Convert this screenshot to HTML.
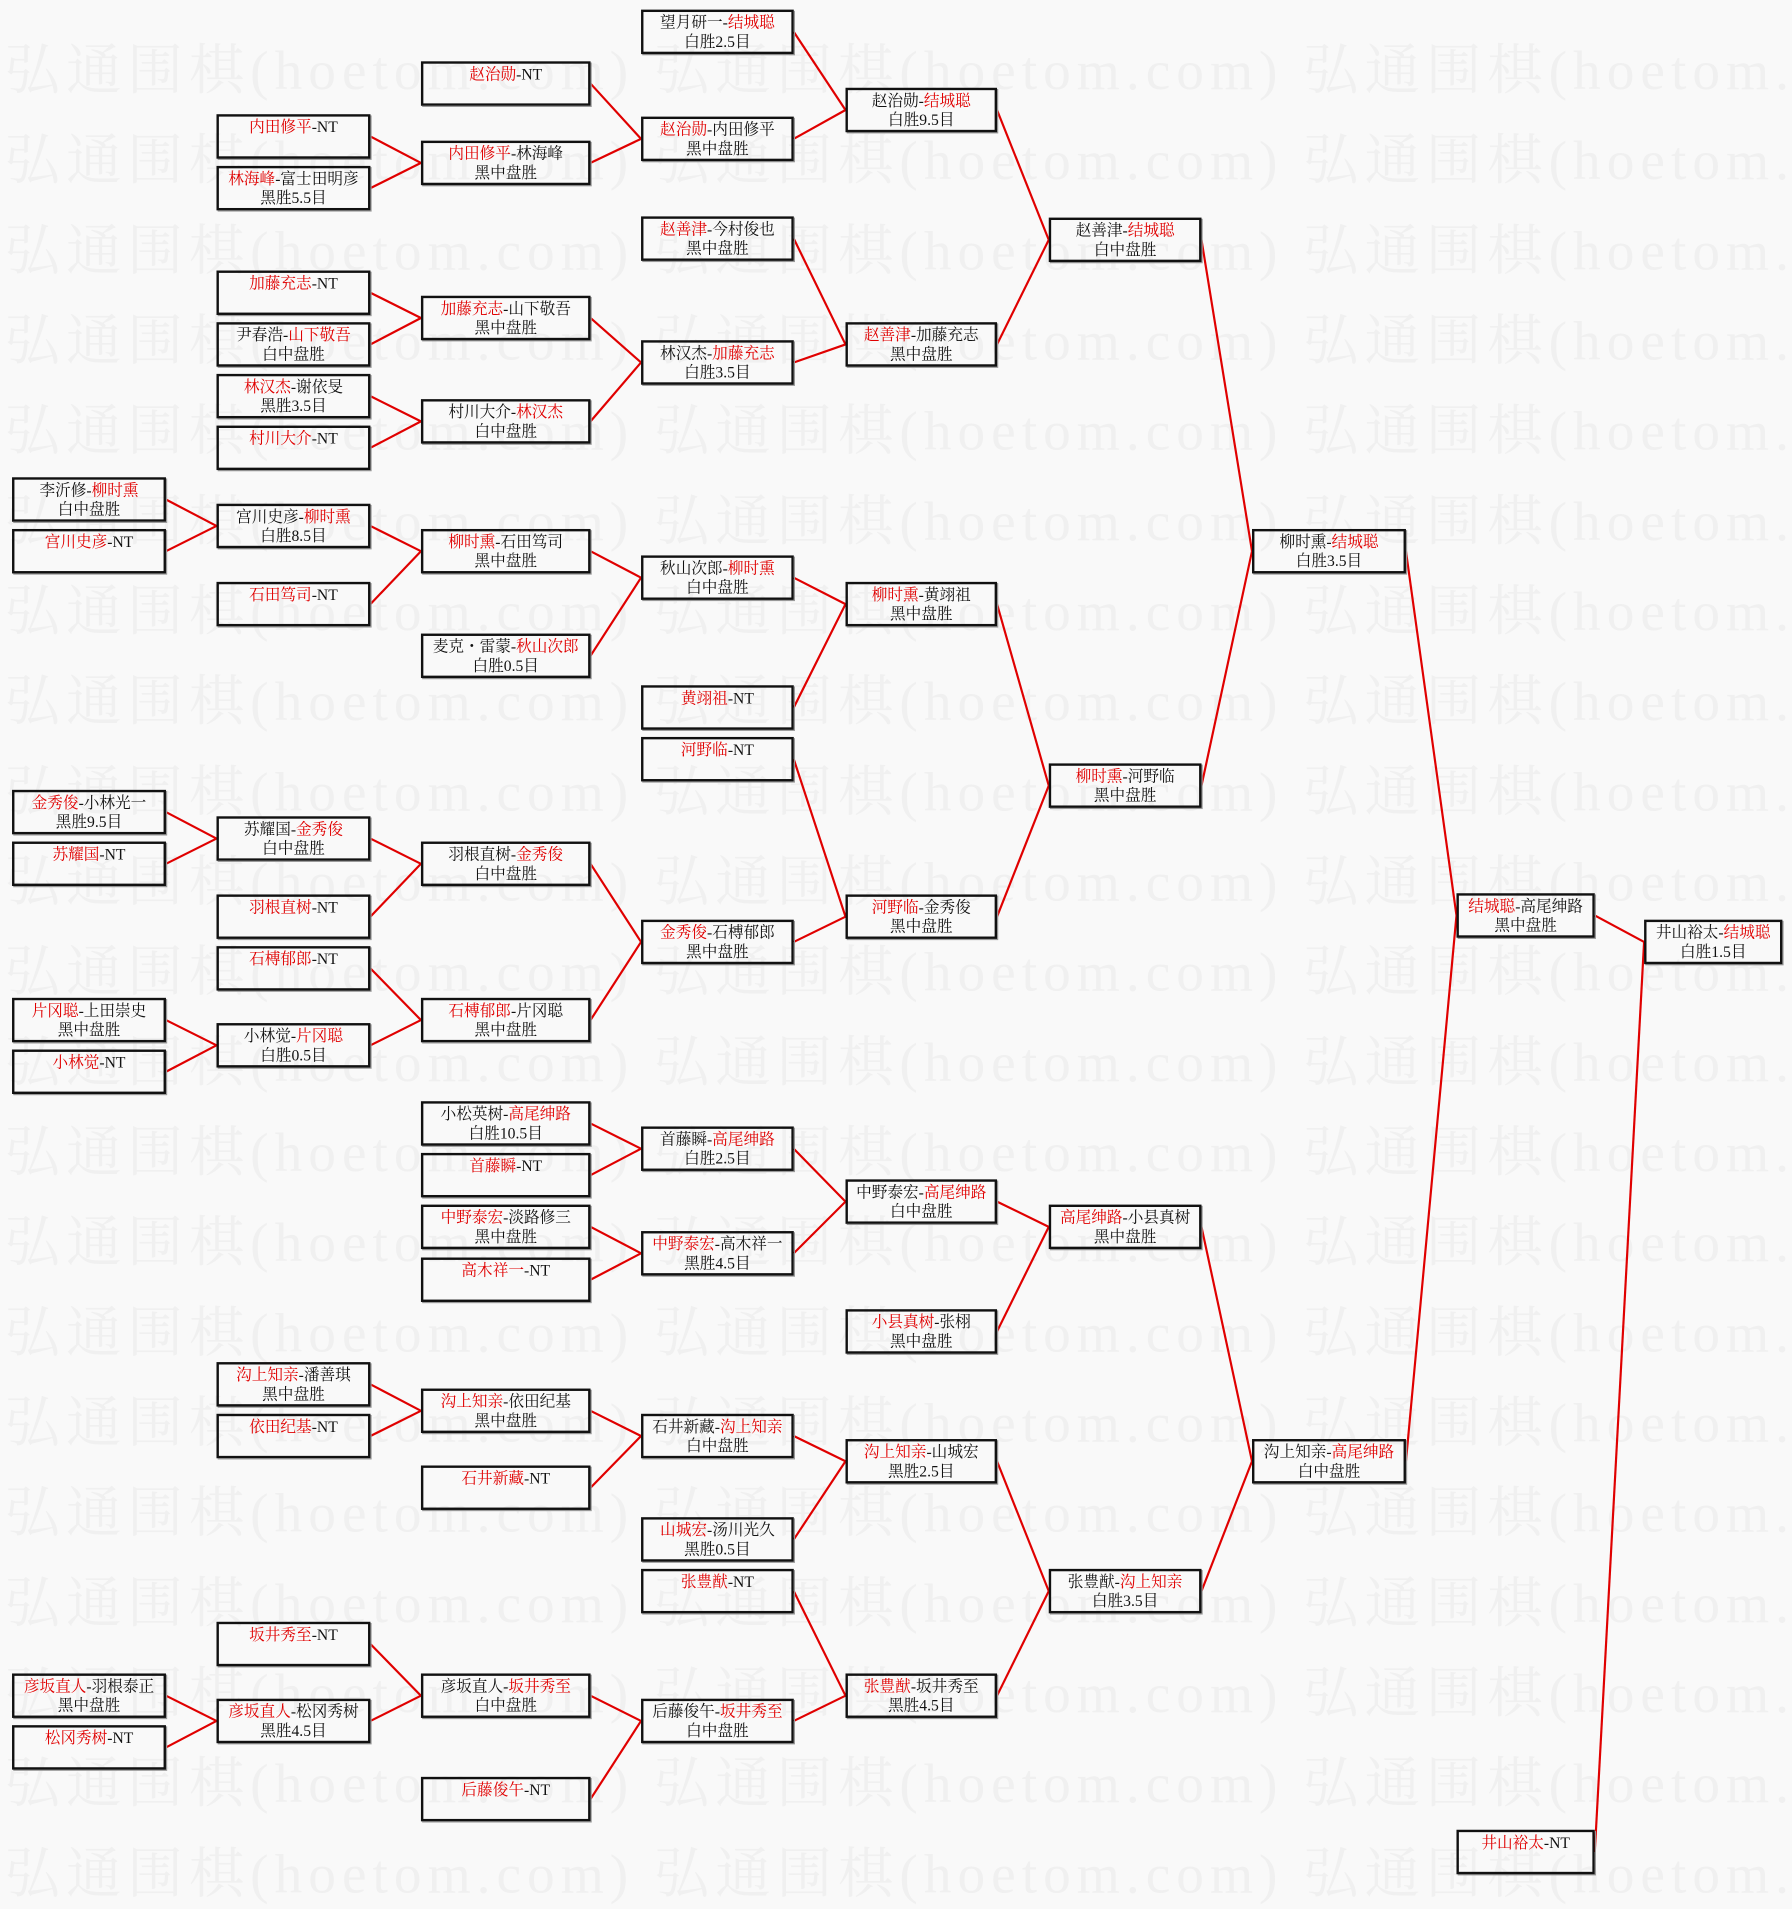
<!DOCTYPE html>
<html><head><meta charset="utf-8"><style>
html,body{margin:0;padding:0;background:#f9f9f9;width:1792px;height:1885px;overflow:hidden}
#c{position:absolute;left:0;top:0;width:1490px;height:1568px;transform:scale(1.2027,1.2022);transform-origin:0 0}
.wm{position:absolute;left:4px;white-space:pre;font-family:"Liberation Serif","Noto Serif CJK SC",serif;font-size:46px;color:#f0f0f0;letter-spacing:5px}
.b{position:absolute;height:37px;box-sizing:border-box;border:2px solid #111;text-align:center;font-family:"Liberation Serif","Noto Serif CJK SC",serif;font-size:13px;line-height:16px;padding-top:1px;color:#111;white-space:nowrap;box-shadow:1px 1px 0 #999}
.r{color:#e00000}
.c0{left:10px;width:128px}.c1{left:180px;width:128px}.c2{left:350px;width:141px}.c3{left:533px;width:127px}.c4{left:703px;width:126px}.c5{left:872px;width:127px}.c6{left:1041px;width:128px}.c7{left:1211px;width:115px}.c8{left:1367px;width:115px}
svg{position:absolute;left:0;top:0}
</style></head><body><div id="c">
<div class="wm" style="top:22px">弘通围棋(hoetom.com) 弘通围棋(hoetom.com) 弘通围棋(hoetom.com)</div>
<div class="wm" style="top:97px">弘通围棋(hoetom.com) 弘通围棋(hoetom.com) 弘通围棋(hoetom.com)</div>
<div class="wm" style="top:172px">弘通围棋(hoetom.com) 弘通围棋(hoetom.com) 弘通围棋(hoetom.com)</div>
<div class="wm" style="top:247px">弘通围棋(hoetom.com) 弘通围棋(hoetom.com) 弘通围棋(hoetom.com)</div>
<div class="wm" style="top:322px">弘通围棋(hoetom.com) 弘通围棋(hoetom.com) 弘通围棋(hoetom.com)</div>
<div class="wm" style="top:397px">弘通围棋(hoetom.com) 弘通围棋(hoetom.com) 弘通围棋(hoetom.com)</div>
<div class="wm" style="top:472px">弘通围棋(hoetom.com) 弘通围棋(hoetom.com) 弘通围棋(hoetom.com)</div>
<div class="wm" style="top:547px">弘通围棋(hoetom.com) 弘通围棋(hoetom.com) 弘通围棋(hoetom.com)</div>
<div class="wm" style="top:622px">弘通围棋(hoetom.com) 弘通围棋(hoetom.com) 弘通围棋(hoetom.com)</div>
<div class="wm" style="top:697px">弘通围棋(hoetom.com) 弘通围棋(hoetom.com) 弘通围棋(hoetom.com)</div>
<div class="wm" style="top:772px">弘通围棋(hoetom.com) 弘通围棋(hoetom.com) 弘通围棋(hoetom.com)</div>
<div class="wm" style="top:847px">弘通围棋(hoetom.com) 弘通围棋(hoetom.com) 弘通围棋(hoetom.com)</div>
<div class="wm" style="top:922px">弘通围棋(hoetom.com) 弘通围棋(hoetom.com) 弘通围棋(hoetom.com)</div>
<div class="wm" style="top:997px">弘通围棋(hoetom.com) 弘通围棋(hoetom.com) 弘通围棋(hoetom.com)</div>
<div class="wm" style="top:1072px">弘通围棋(hoetom.com) 弘通围棋(hoetom.com) 弘通围棋(hoetom.com)</div>
<div class="wm" style="top:1147px">弘通围棋(hoetom.com) 弘通围棋(hoetom.com) 弘通围棋(hoetom.com)</div>
<div class="wm" style="top:1222px">弘通围棋(hoetom.com) 弘通围棋(hoetom.com) 弘通围棋(hoetom.com)</div>
<div class="wm" style="top:1297px">弘通围棋(hoetom.com) 弘通围棋(hoetom.com) 弘通围棋(hoetom.com)</div>
<div class="wm" style="top:1372px">弘通围棋(hoetom.com) 弘通围棋(hoetom.com) 弘通围棋(hoetom.com)</div>
<div class="wm" style="top:1447px">弘通围棋(hoetom.com) 弘通围棋(hoetom.com) 弘通围棋(hoetom.com)</div>
<div class="wm" style="top:1522px">弘通围棋(hoetom.com) 弘通围棋(hoetom.com) 弘通围棋(hoetom.com)</div>
<svg width="1490" height="1568" viewBox="0 0 1490 1568"><g stroke="#e00000" stroke-width="1.8" fill="none">
<line x1="660" y1="26.5" x2="703" y2="91.5"/><line x1="660" y1="115.5" x2="703" y2="91.5"/>
<line x1="491" y1="69.5" x2="533" y2="115.5"/><line x1="491" y1="135.5" x2="533" y2="115.5"/>
<line x1="308" y1="113.5" x2="350" y2="135.5"/><line x1="308" y1="156.5" x2="350" y2="135.5"/>
<line x1="829" y1="91.5" x2="872" y2="199.5"/><line x1="829" y1="286.5" x2="872" y2="199.5"/>
<line x1="660" y1="198.5" x2="703" y2="286.5"/><line x1="660" y1="301.5" x2="703" y2="286.5"/>
<line x1="491" y1="264.5" x2="533" y2="301.5"/><line x1="491" y1="350.5" x2="533" y2="301.5"/>
<line x1="308" y1="243.5" x2="350" y2="264.5"/><line x1="308" y1="286.5" x2="350" y2="264.5"/>
<line x1="308" y1="329.5" x2="350" y2="350.5"/><line x1="308" y1="372.5" x2="350" y2="350.5"/>
<line x1="999" y1="199.5" x2="1041" y2="458.5"/><line x1="999" y1="653.5" x2="1041" y2="458.5"/>
<line x1="829" y1="502.5" x2="872" y2="653.5"/><line x1="829" y1="762.5" x2="872" y2="653.5"/>
<line x1="660" y1="480.5" x2="703" y2="502.5"/><line x1="660" y1="588.5" x2="703" y2="502.5"/>
<line x1="491" y1="458.5" x2="533" y2="480.5"/><line x1="491" y1="545.5" x2="533" y2="480.5"/>
<line x1="308" y1="437.5" x2="350" y2="458.5"/><line x1="308" y1="502.5" x2="350" y2="458.5"/>
<line x1="138" y1="415.5" x2="180" y2="437.5"/><line x1="138" y1="458.5" x2="180" y2="437.5"/>
<line x1="660" y1="631.5" x2="703" y2="762.5"/><line x1="660" y1="783.5" x2="703" y2="762.5"/>
<line x1="491" y1="718.5" x2="533" y2="783.5"/><line x1="491" y1="848.5" x2="533" y2="783.5"/>
<line x1="308" y1="697.5" x2="350" y2="718.5"/><line x1="308" y1="762.5" x2="350" y2="718.5"/>
<line x1="138" y1="675.5" x2="180" y2="697.5"/><line x1="138" y1="718.5" x2="180" y2="697.5"/>
<line x1="308" y1="805.5" x2="350" y2="848.5"/><line x1="308" y1="869.5" x2="350" y2="848.5"/>
<line x1="138" y1="848.5" x2="180" y2="869.5"/><line x1="138" y1="891.5" x2="180" y2="869.5"/>
<line x1="1169" y1="458.5" x2="1211" y2="761.5"/><line x1="1169" y1="1215.5" x2="1211" y2="761.5"/>
<line x1="1326" y1="761.5" x2="1367" y2="783.5"/><line x1="1326" y1="1540.5" x2="1367" y2="783.5"/>
<line x1="999" y1="1020.5" x2="1041" y2="1215.5"/><line x1="999" y1="1323.5" x2="1041" y2="1215.5"/>
<line x1="829" y1="999.5" x2="872" y2="1020.5"/><line x1="829" y1="1107.5" x2="872" y2="1020.5"/>
<line x1="660" y1="955.5" x2="703" y2="999.5"/><line x1="660" y1="1042.5" x2="703" y2="999.5"/>
<line x1="491" y1="934.5" x2="533" y2="955.5"/><line x1="491" y1="977.5" x2="533" y2="955.5"/>
<line x1="491" y1="1020.5" x2="533" y2="1042.5"/><line x1="491" y1="1064.5" x2="533" y2="1042.5"/>
<line x1="829" y1="1215.5" x2="872" y2="1323.5"/><line x1="829" y1="1410.5" x2="872" y2="1323.5"/>
<line x1="660" y1="1194.5" x2="703" y2="1215.5"/><line x1="660" y1="1280.5" x2="703" y2="1215.5"/>
<line x1="491" y1="1173.5" x2="533" y2="1194.5"/><line x1="491" y1="1237.5" x2="533" y2="1194.5"/>
<line x1="308" y1="1151.5" x2="350" y2="1173.5"/><line x1="308" y1="1194.5" x2="350" y2="1173.5"/>
<line x1="660" y1="1323.5" x2="703" y2="1410.5"/><line x1="660" y1="1431.5" x2="703" y2="1410.5"/>
<line x1="491" y1="1410.5" x2="533" y2="1431.5"/><line x1="491" y1="1496.5" x2="533" y2="1431.5"/>
<line x1="308" y1="1367.5" x2="350" y2="1410.5"/><line x1="308" y1="1431.5" x2="350" y2="1410.5"/>
<line x1="138" y1="1410.5" x2="180" y2="1431.5"/><line x1="138" y1="1453.5" x2="180" y2="1431.5"/>
</g></svg>

<div class="b c0" style="top:397px">李沂修-<span class="r">柳时熏</span><br>白中盘胜</div>
<div class="b c0" style="top:440px"><span class="r">宫川史彦</span>-NT</div>
<div class="b c0" style="top:657px"><span class="r">金秀俊</span>-小林光一<br>黑胜9.5目</div>
<div class="b c0" style="top:700px"><span class="r">苏耀国</span>-NT</div>
<div class="b c0" style="top:830px"><span class="r">片冈聪</span>-上田崇史<br>黑中盘胜</div>
<div class="b c0" style="top:873px"><span class="r">小林觉</span>-NT</div>
<div class="b c0" style="top:1392px"><span class="r">彦坂直人</span>-羽根泰正<br>黑中盘胜</div>
<div class="b c0" style="top:1435px"><span class="r">松冈秀树</span>-NT</div>

<div class="b c1" style="top:95px"><span class="r">内田修平</span>-NT</div>
<div class="b c1" style="top:138px"><span class="r">林海峰</span>-富士田明彦<br>黑胜5.5目</div>
<div class="b c1" style="top:225px"><span class="r">加藤充志</span>-NT</div>
<div class="b c1" style="top:268px">尹春浩-<span class="r">山下敬吾</span><br>白中盘胜</div>
<div class="b c1" style="top:311px"><span class="r">林汉杰</span>-谢依旻<br>黑胜3.5目</div>
<div class="b c1" style="top:354px"><span class="r">村川大介</span>-NT</div>
<div class="b c1" style="top:419px">宫川史彦-<span class="r">柳时熏</span><br>白胜8.5目</div>
<div class="b c1" style="top:484px"><span class="r">石田笃司</span>-NT</div>
<div class="b c1" style="top:679px">苏耀国-<span class="r">金秀俊</span><br>白中盘胜</div>
<div class="b c1" style="top:744px"><span class="r">羽根直树</span>-NT</div>
<div class="b c1" style="top:787px"><span class="r">石榑郁郎</span>-NT</div>
<div class="b c1" style="top:851px">小林觉-<span class="r">片冈聪</span><br>白胜0.5目</div>
<div class="b c1" style="top:1133px"><span class="r">沟上知亲</span>-潘善琪<br>黑中盘胜</div>
<div class="b c1" style="top:1176px"><span class="r">依田纪基</span>-NT</div>
<div class="b c1" style="top:1349px"><span class="r">坂井秀至</span>-NT</div>
<div class="b c1" style="top:1413px"><span class="r">彦坂直人</span>-松冈秀树<br>黑胜4.5目</div>

<div class="b c2" style="top:51px"><span class="r">赵治勋</span>-NT</div>
<div class="b c2" style="top:117px"><span class="r">内田修平</span>-林海峰<br>黑中盘胜</div>
<div class="b c2" style="top:246px"><span class="r">加藤充志</span>-山下敬吾<br>黑中盘胜</div>
<div class="b c2" style="top:332px">村川大介-<span class="r">林汉杰</span><br>白中盘胜</div>
<div class="b c2" style="top:440px"><span class="r">柳时熏</span>-石田笃司<br>黑中盘胜</div>
<div class="b c2" style="top:527px">麦克・雷蒙-<span class="r">秋山次郎</span><br>白胜0.5目</div>
<div class="b c2" style="top:700px">羽根直树-<span class="r">金秀俊</span><br>白中盘胜</div>
<div class="b c2" style="top:830px"><span class="r">石榑郁郎</span>-片冈聪<br>黑中盘胜</div>
<div class="b c2" style="top:916px">小松英树-<span class="r">高尾绅路</span><br>白胜10.5目</div>
<div class="b c2" style="top:959px"><span class="r">首藤瞬</span>-NT</div>
<div class="b c2" style="top:1002px"><span class="r">中野泰宏</span>-淡路修三<br>黑中盘胜</div>
<div class="b c2" style="top:1046px"><span class="r">高木祥一</span>-NT</div>
<div class="b c2" style="top:1155px"><span class="r">沟上知亲</span>-依田纪基<br>黑中盘胜</div>
<div class="b c2" style="top:1219px"><span class="r">石井新藏</span>-NT</div>
<div class="b c2" style="top:1392px">彦坂直人-<span class="r">坂井秀至</span><br>白中盘胜</div>
<div class="b c2" style="top:1478px"><span class="r">后藤俊午</span>-NT</div>

<div class="b c3" style="top:8px">望月研一-<span class="r">结城聪</span><br>白胜2.5目</div>
<div class="b c3" style="top:97px"><span class="r">赵治勋</span>-内田修平<br>黑中盘胜</div>
<div class="b c3" style="top:180px"><span class="r">赵善津</span>-今村俊也<br>黑中盘胜</div>
<div class="b c3" style="top:283px">林汉杰-<span class="r">加藤充志</span><br>白胜3.5目</div>
<div class="b c3" style="top:462px">秋山次郎-<span class="r">柳时熏</span><br>白中盘胜</div>
<div class="b c3" style="top:570px"><span class="r">黄翊祖</span>-NT</div>
<div class="b c3" style="top:613px"><span class="r">河野临</span>-NT</div>
<div class="b c3" style="top:765px"><span class="r">金秀俊</span>-石榑郁郎<br>黑中盘胜</div>
<div class="b c3" style="top:937px">首藤瞬-<span class="r">高尾绅路</span><br>白胜2.5目</div>
<div class="b c3" style="top:1024px"><span class="r">中野泰宏</span>-高木祥一<br>黑胜4.5目</div>
<div class="b c3" style="top:1176px">石井新藏-<span class="r">沟上知亲</span><br>白中盘胜</div>
<div class="b c3" style="top:1262px"><span class="r">山城宏</span>-汤川光久<br>黑胜0.5目</div>
<div class="b c3" style="top:1305px"><span class="r">张豊猷</span>-NT</div>
<div class="b c3" style="top:1413px">后藤俊午-<span class="r">坂井秀至</span><br>白中盘胜</div>

<div class="b c4" style="top:73px">赵治勋-<span class="r">结城聪</span><br>白胜9.5目</div>
<div class="b c4" style="top:268px"><span class="r">赵善津</span>-加藤充志<br>黑中盘胜</div>
<div class="b c4" style="top:484px"><span class="r">柳时熏</span>-黄翊祖<br>黑中盘胜</div>
<div class="b c4" style="top:744px"><span class="r">河野临</span>-金秀俊<br>黑中盘胜</div>
<div class="b c4" style="top:981px">中野泰宏-<span class="r">高尾绅路</span><br>白中盘胜</div>
<div class="b c4" style="top:1089px"><span class="r">小县真树</span>-张栩<br>黑中盘胜</div>
<div class="b c4" style="top:1197px"><span class="r">沟上知亲</span>-山城宏<br>黑胜2.5目</div>
<div class="b c4" style="top:1392px"><span class="r">张豊猷</span>-坂井秀至<br>黑胜4.5目</div>

<div class="b c5" style="top:181px">赵善津-<span class="r">结城聪</span><br>白中盘胜</div>
<div class="b c5" style="top:635px"><span class="r">柳时熏</span>-河野临<br>黑中盘胜</div>
<div class="b c5" style="top:1002px"><span class="r">高尾绅路</span>-小县真树<br>黑中盘胜</div>
<div class="b c5" style="top:1305px">张豊猷-<span class="r">沟上知亲</span><br>白胜3.5目</div>

<div class="b c6" style="top:440px">柳时熏-<span class="r">结城聪</span><br>白胜3.5目</div>
<div class="b c6" style="top:1197px">沟上知亲-<span class="r">高尾绅路</span><br>白中盘胜</div>

<div class="b c7" style="top:743px"><span class="r">结城聪</span>-高尾绅路<br>黑中盘胜</div>
<div class="b c7" style="top:1522px"><span class="r">井山裕太</span>-NT</div>

<div class="b c8" style="top:765px">井山裕太-<span class="r">结城聪</span><br>白胜1.5目</div>
</div></body></html>
